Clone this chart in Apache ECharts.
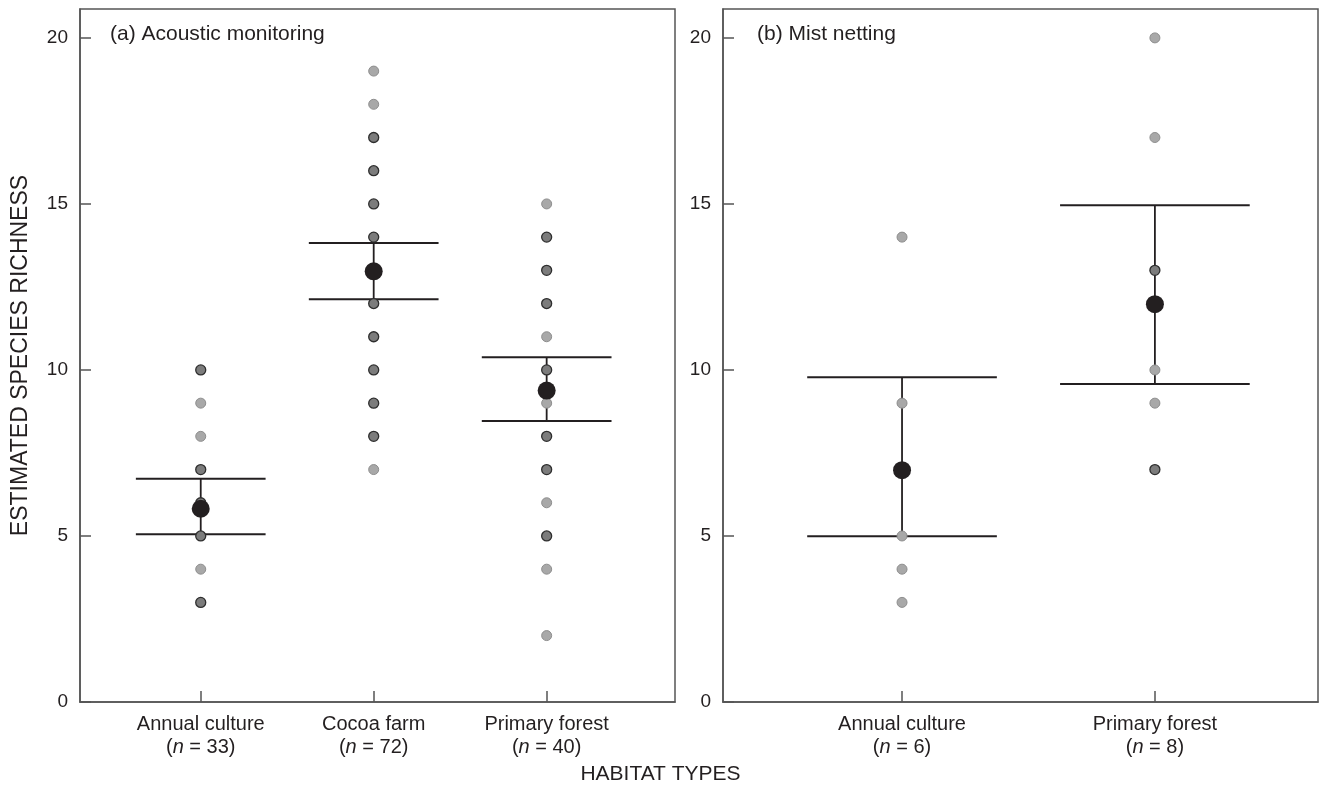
<!DOCTYPE html>
<html>
<head>
<meta charset="utf-8">
<script src="https://cdn.jsdelivr.net/npm/echarts@6/dist/echarts.min.js"></script>
<style>
html,body{margin:0;padding:0;background:#fff;}
#chart{width:1321px;height:785px;}
</style>
</head>
<body>
<div id="chart"></div>
<script>
// ---------- DATA ----------
const panelTitles = ['(a) Acoustic monitoring', '(b) Mist netting'];
const yTicks = [0, 5, 10, 15, 20];

// (a) Acoustic monitoring
const acousticCats = ['Annual culture', 'Cocoa farm', 'Primary forest'];
const acousticN = [33, 72, 40];
const acousticSingle = [[9, 8, 4], [19, 18, 7], [15, 11, 9, 6, 4, 2]];
const acousticMulti = [[10, 7, 6, 5, 3], [17, 16, 15, 14, 13, 12, 11, 10, 9, 8], [14, 13, 12, 10, 8, 7, 5]];
const acousticMean = [5.82, 12.97, 9.38];
const acousticLower = [5.05, 12.13, 8.46];
const acousticUpper = [6.72, 13.82, 10.38];

// (b) Mist netting
const mistCats = ['Annual culture', 'Primary forest'];
const mistN = [6, 8];
const mistSingle = [[14, 9, 7, 5, 4, 3], [20, 17, 10, 9]];
const mistMulti = [[], [13, 7]];
const mistMean = [6.98, 11.98];
const mistLower = [4.99, 9.58];
const mistUpper = [9.78, 14.96];

// ---------- STYLE ----------
const FONT = 'Arial, "Liberation Sans", Helvetica, sans-serif';
const INK = '#231f20';
const AXIS = '#555555';
const CAP = 0.375;

function points(arr) {
  const out = [];
  arr.forEach((vals, i) => vals.forEach(v => out.push([i + 1, v])));
  return out;
}
function means(arr) { return arr.map((v, i) => [i + 1, v]); }
function bars(lo, hi) { return lo.map((v, i) => [i + 1, v, hi[i]]); }

function renderBar(params, api) {
  const x = api.value(0), lo = api.value(1), hi = api.value(2);
  const top = api.coord([x, hi]), bot = api.coord([x, lo]);
  const tl = api.coord([x - CAP, hi]), tr = api.coord([x + CAP, hi]);
  const bl = api.coord([x - CAP, lo]), br = api.coord([x + CAP, lo]);
  const st = { stroke: INK, lineWidth: 2 };
  return {
    type: 'group',
    children: [
      { type: 'line', shape: { x1: top[0], y1: top[1], x2: bot[0], y2: bot[1] }, style: { stroke: INK, lineWidth: 1.8 } },
      { type: 'line', shape: { x1: tl[0], y1: tl[1], x2: tr[0], y2: tr[1] }, style: st },
      { type: 'line', shape: { x1: bl[0], y1: bl[1], x2: br[0], y2: br[1] }, style: st }
    ]
  };
}

function makeXAxis(gi, cats, ns, min, max) {
  const vals = cats.map((c, i) => i + 1);
  return {
    type: 'value', gridIndex: gi, min: min, max: max,
    axisLine: { show: true, lineStyle: { color: AXIS, width: 1.5 } },
    axisTick: { show: true, inside: true, length: 11, customValues: vals, lineStyle: { color: AXIS, width: 1.5 } },
    splitLine: { show: false },
    axisLabel: {
      customValues: vals, margin: 11, color: INK, fontSize: 20, fontFamily: FONT, lineHeight: 23,
      formatter: function (v) {
        const i = Math.round(v) - 1;
        return cats[i] + '\n(' + '{i|n}' + ' = ' + ns[i] + ')';
      },
      rich: { i: { fontStyle: 'italic', fontSize: 20, fontFamily: FONT, color: INK, lineHeight: 23 } }
    }
  };
}
function makeYAxis(gi, withName) {
  const ax = {
    type: 'value', gridIndex: gi, min: 0, max: 20.87,
    axisLine: { show: true, lineStyle: { color: AXIS, width: 1.5 } },
    axisTick: { show: true, inside: true, length: 11, customValues: yTicks, lineStyle: { color: AXIS, width: 1.5 } },
    splitLine: { show: false },
    axisLabel: { customValues: yTicks, margin: 12, color: INK, fontSize: 19, fontFamily: FONT }
  };
  if (withName) {
    ax.name = 'ESTIMATED SPECIES RICHNESS';
    ax.nameLocation = 'middle';
    ax.nameGap = 48;
    ax.nameTextStyle = { color: INK, fontSize: 23, fontFamily: FONT };
  }
  return ax;
}

function panelSeries(gi, single, multi, mean, lo, hi) {
  return [
    { type: 'custom', xAxisIndex: gi, yAxisIndex: gi, renderItem: renderBar, data: bars(lo, hi), z: 1, silent: true },
    { type: 'scatter', xAxisIndex: gi, yAxisIndex: gi, data: points(single), symbolSize: 10, z: 2,
      itemStyle: { color: '#a8a8a8', borderColor: '#8e8e8e', borderWidth: 1, opacity: 1 } },
    { type: 'scatter', xAxisIndex: gi, yAxisIndex: gi, data: points(multi), symbolSize: 10, z: 3,
      itemStyle: { color: '#7c7c7c', borderColor: '#2e2e2e', borderWidth: 1.3, opacity: 1 } },
    { type: 'scatter', xAxisIndex: gi, yAxisIndex: gi, data: means(mean), symbolSize: 18, z: 4,
      itemStyle: { color: INK, opacity: 1 } }
  ];
}

const chart = echarts.init(document.getElementById('chart'), null, { renderer: 'canvas' });
chart.setOption({
  animation: false,
  backgroundColor: '#ffffff',
  textStyle: { fontFamily: FONT },
  title: [
    { text: panelTitles[0], left: 105, top: 19, textStyle: { fontSize: 21, fontWeight: 'normal', color: INK, fontFamily: FONT } },
    { text: panelTitles[1], left: 752, top: 19, textStyle: { fontSize: 21, fontWeight: 'normal', color: INK, fontFamily: FONT } }
  ],
  grid: [
    { left: 80, top: 9, width: 595, height: 693, show: true, borderColor: AXIS, borderWidth: 1.5, backgroundColor: 'transparent' },
    { left: 723, top: 9, width: 595, height: 693, show: true, borderColor: AXIS, borderWidth: 1.5, backgroundColor: 'transparent' }
  ],
  xAxis: [
    makeXAxis(0, acousticCats, acousticN, 0.302, 3.742),
    makeXAxis(1, mistCats, mistN, 0.292, 2.645)
  ],
  yAxis: [makeYAxis(0, true), makeYAxis(1, false)],
  graphic: [
    { type: 'text', left: 'center', top: 764, style: { text: 'HABITAT TYPES', fontSize: 21, fontFamily: FONT, fill: INK } }
  ],
  series: [].concat(
    panelSeries(0, acousticSingle, acousticMulti, acousticMean, acousticLower, acousticUpper),
    panelSeries(1, mistSingle, mistMulti, mistMean, mistLower, mistUpper)
  )
});
</script>
</body>
</html>
